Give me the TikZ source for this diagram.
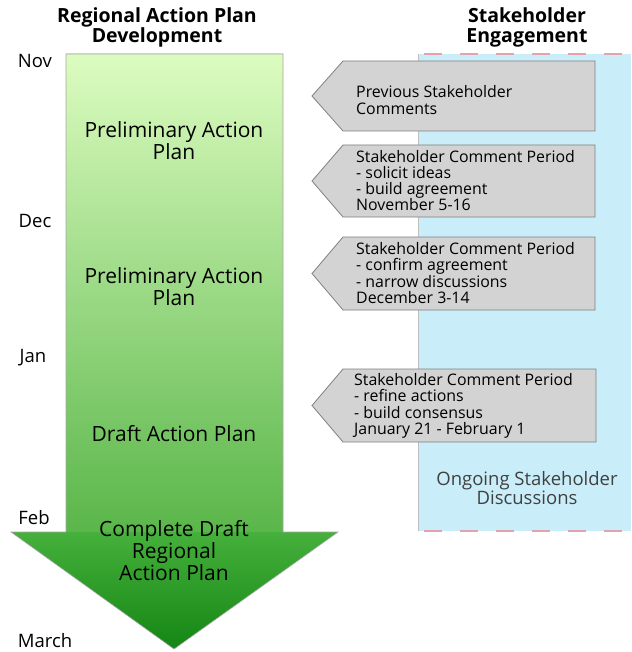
\documentclass[tikz,border=0pt]{standalone}
\usepackage{fontspec}
\setmainfont{Open Sans}
\usetikzlibrary{calc}
\definecolor{plantop}{HTML}{DCFCC0}
\definecolor{planmid}{HTML}{5AB64A}
\definecolor{headtop}{HTML}{46B03C}
\definecolor{headtip}{HTML}{148614}
\definecolor{engagefill}{HTML}{C9EEFA}
\definecolor{engagedash}{HTML}{E3A3AC}
\definecolor{boxfill}{HTML}{D3D3D3}
\tikzset{
  headline/.style={font=\bfseries\fontsize{19.5}{20}\selectfont, align=center, inner sep=0},
  month/.style={font=\fontsize{18.5}{18}\selectfont, inner sep=0},
  plantext/.style={font=\fontsize{21}{20.5}\selectfont, align=center, inner sep=0},
  boxtext/.style={font=\fontsize{15.9}{16.3}\selectfont, align=left, inner sep=0, anchor=west},
  commentbox/.style={fill=boxfill, draw=black!50, line width=0.8pt},
}
\def\commentbox(#1:#2:#3){\draw[commentbox] (#3,#1) -- (343,#1) -- (312,{(#1+#2)/2}) -- (343,#2) -- (#3,#2) -- cycle;}

\begin{document}
\begin{tikzpicture}[x=1pt, y=-1pt]
				\useasboundingbox (0,0) rectangle (631,652);
				
				\node[headline] (plantitle) at (157,27) {Regional Action Plan\\Development};
				\node[headline] (engagetitle) at (527,27) {Stakeholder\\Engagement};
				
				% engagement band
				\fill[engagefill] (418,54) rectangle (631,531);
				\draw[black!25, line width=0.8pt] (418,54) -- (418,531);
				\draw[engagedash, line width=1.2pt, dash pattern=on 18pt off 18pt, dash phase=-6pt] (418,54) -- (631,54);
				\draw[engagedash, line width=1.2pt, dash pattern=on 18pt off 18pt, dash phase=-6pt] (418,531) -- (631,531);
				\node[font=\fontsize{18.5}{16.5}\selectfont, align=center, text=black!75, inner sep=0] (ongoing) at (527,488) {Ongoing Stakeholder\\Discussions};
				
				% plan arrow
				\shade[top color=plantop, bottom color=planmid] (66,54) rectangle (283,532);
				\shade[top color=headtop, bottom color=headtip] (11,532) -- (338,532) -- (174,649) -- cycle;
				\draw[black!35, line width=0.6pt] (66,54) -- (283,54) -- (283,532) -- (338,532) -- (174,649) -- (11,532) -- (66,532) -- cycle;
				
				\node[plantext] (prelimone) at (174,141) {Preliminary Action\\Plan};
				\node[plantext] (prelimtwo) at (174,287) {Preliminary Action\\Plan};
				\node[plantext] (draft) at (174,434) {Draft Action Plan};
				\node[plantext] (complete) at (174,551) {Complete Draft\\Regional\\Action Plan};
				
				\node[month] (nov) at (35,61) {Nov};
				\node[month] (dec) at (35,221) {Dec};
				\node[month] (jan) at (33,358) {Jan};
				\node[month] (feb) at (34,518) {Feb};
				\node[month] (march) at (45,641) {March};
				
				% comment periods
				\commentbox(61:131:595)
				\node[boxtext] (previous) at (356,100) {Previous Stakeholder\\Comments};
				\commentbox(145:217:595)
				\node[boxtext] (periodone) at (356,180.5) {Stakeholder Comment Period\\- solicit ideas\\- build agreement\\November 5-16};
				\commentbox(237:310:595)
				\node[boxtext] (periodtwo) at (356,273) {Stakeholder Comment Period\\- confirm agreement\\- narrow discussions\\December 3-14};
				\commentbox(369:442:596)
				\node[boxtext] (periodthree) at (354,406) {Stakeholder Comment Period\\- refine actions\\- build consensus\\January 21 - February 1};
			\end{tikzpicture}
\end{document}
